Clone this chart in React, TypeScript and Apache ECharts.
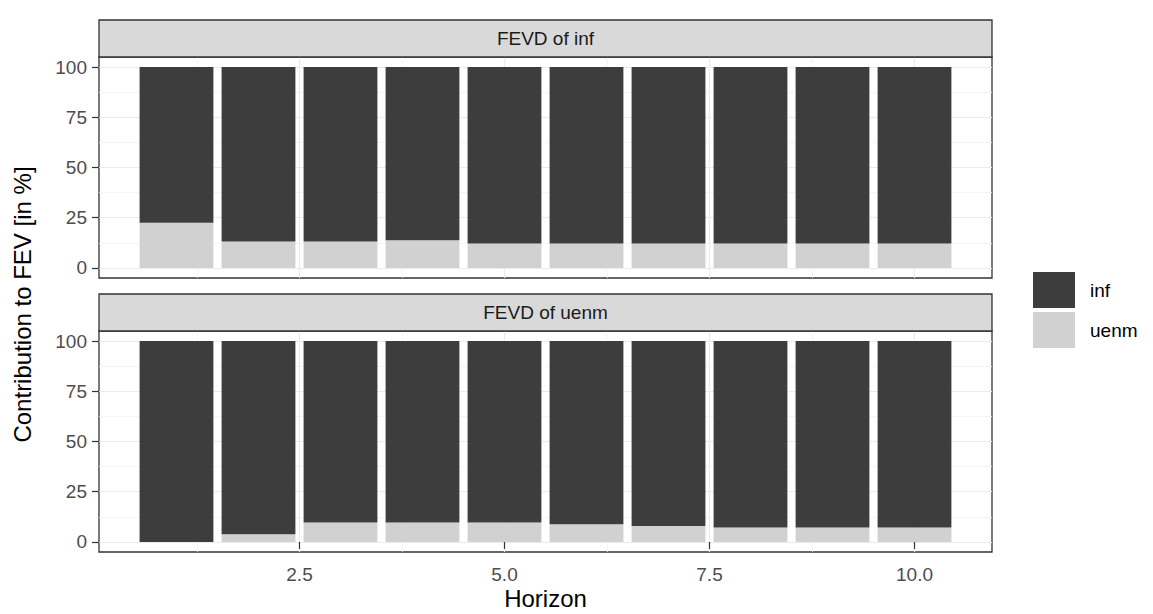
import React, { useEffect, useRef } from "react";
import * as echarts from "echarts";

const horizon = [1, 2, 3, 4, 5, 6, 7, 8, 9, 10];
const panelTitles = ["FEVD of inf", "FEVD of uenm"];
const seriesNames = ["inf", "uenm"];
// Panel 1: FEVD of inf
const p1Inf = [77.5, 86.8, 86.8, 86.2, 87.8, 87.8, 87.8, 87.8, 87.8, 87.8];
const p1Uenm = [22.5, 13.2, 13.2, 13.8, 12.2, 12.2, 12.2, 12.2, 12.2, 12.2];
// Panel 2: FEVD of uenm
const p2Inf = [100, 96.2, 90.3, 90.3, 90.3, 91.2, 92.0, 92.8, 92.8, 92.8];
const p2Uenm = [0, 3.8, 9.7, 9.7, 9.7, 8.8, 8.0, 7.2, 7.2, 7.2];

const yMajor = [0, 25, 50, 75, 100];
const yMinor = [12.5, 37.5, 62.5, 87.5];
const xMajor = [2.5, 5, 7.5, 10];
const xMinor = [1.25, 3.75, 6.25, 8.75];

const DARK = "#3d3d3d";
const LIGHT = "#d1d1d1";
const FONT = "'Liberation Sans', Arial, sans-serif";
const TICK_FS = 19;
const TITLE_FS = 24;

const PL = 99;
const PW = 893;
const PH = 221;
const panelTops = [57, 331];
const stripH = 37;
const XMIN = 0.055;
const XMAX = 10.945;
const pxPerUnit = PW / (XMAX - XMIN);

export default function App() {
  const ref = useRef<HTMLDivElement>(null);
  useEffect(() => {
    if (!ref.current) return;
    const chart = echarts.init(ref.current, undefined, { renderer: "svg" });
    const grids: any[] = panelTops.map((t) => ({
      left: PL,
      top: t,
      width: PW,
      height: PH,
      show: true,
      borderColor: "#333333",
      borderWidth: 1.3,
      backgroundColor: "transparent",
    }));
    // bar grids: one band per horizon step
    panelTops.forEach((t) => {
      grids.push({
        left: PL + (horizon[0] - 0.5 - XMIN) * pxPerUnit,
        top: t,
        width: horizon.length * pxPerUnit,
        height: PH,
        show: false,
      });
    });
    const xAxes: any[] = [];
    const yAxes: any[] = [];
    panelTops.forEach((_, i) => {
      const isBottom = i === panelTops.length - 1;
      xAxes.push({
        type: "value",
        gridIndex: i,
        min: XMIN,
        max: XMAX,
        axisLine: { show: false },
        axisTick: {
          show: isBottom,
          customValues: xMajor,
          length: 7,
          lineStyle: { color: "#333333", width: 1.2 },
        },
        axisLabel: {
          show: isBottom,
          customValues: xMajor,
          formatter: (v: number) => v.toFixed(1),
          color: "#4d4d4d",
          fontFamily: FONT,
          fontSize: TICK_FS,
          margin: 13,
        },
        splitLine: { show: true, lineStyle: { color: "#ebebeb", width: 1.2 } },
      });
      xAxes.push({
        type: "value",
        gridIndex: i,
        position: "top",
        min: XMIN,
        max: XMAX,
        axisLine: { show: false },
        axisTick: { show: false, customValues: xMinor },
        axisLabel: { show: false, customValues: xMinor },
        splitLine: { show: true, lineStyle: { color: "#f2f2f2", width: 0.8 } },
      });
      xAxes.push({
        type: "category",
        gridIndex: 2 + i,
        data: horizon.map(String),
        show: false,
      });
      yAxes.push({
        type: "value",
        gridIndex: i,
        min: -5,
        max: 105,
        axisLine: { show: false },
        axisTick: {
          show: true,
          customValues: yMajor,
          length: 7,
          lineStyle: { color: "#333333", width: 1.2 },
        },
        axisLabel: {
          show: true,
          customValues: yMajor,
          color: "#4d4d4d",
          fontFamily: FONT,
          fontSize: TICK_FS,
          margin: 12,
        },
        splitLine: { show: true, lineStyle: { color: "#ebebeb", width: 1.2 } },
      });
      yAxes.push({
        type: "value",
        gridIndex: i,
        position: "right",
        min: -5,
        max: 105,
        axisLine: { show: false },
        axisTick: { show: false, customValues: yMinor },
        axisLabel: { show: false, customValues: yMinor },
        splitLine: { show: true, lineStyle: { color: "#f2f2f2", width: 0.8 } },
      });
      yAxes.push({
        type: "value",
        gridIndex: 2 + i,
        min: -5,
        max: 105,
        show: false,
        splitLine: { show: false },
      });
    });

    const panelData = [
      [p1Inf, p1Uenm],
      [p2Inf, p2Uenm],
    ];
    const series: any[] = [];
    panelData.forEach(([inf, uenm], i) => {
      series.push({
        name: "uenm",
        type: "bar",
        xAxisIndex: i * 3 + 2,
        yAxisIndex: i * 3 + 2,
        stack: "p" + i,
        barWidth: "90%",
        itemStyle: { color: LIGHT },
        data: uenm,
        z: 2,
      });
      series.push({
        name: "inf",
        type: "bar",
        xAxisIndex: i * 3 + 2,
        yAxisIndex: i * 3 + 2,
        stack: "p" + i,
        barWidth: "90%",
        itemStyle: { color: DARK },
        data: inf,
        z: 2,
      });
    });

    const graphics: any[] = [];
    panelTops.forEach((t, i) => {
      graphics.push({
        type: "rect",
        shape: { x: PL, y: t - stripH, width: PW, height: stripH },
        style: { fill: "#d9d9d9", stroke: "#333333", lineWidth: 1.3 },
        z: 10,
      });
      graphics.push({
        type: "text",
        x: PL + PW / 2,
        y: t - stripH / 2,
        style: {
          text: panelTitles[i],
          fill: "#1a1a1a",
          font: `${TICK_FS}px ${FONT}`,
          textAlign: "center",
          textVerticalAlign: "middle",
        },
        z: 11,
      });
    });
    graphics.push({
      type: "text",
      x: 22,
      y: (panelTops[0] + panelTops[1] + PH) / 2,
      rotation: Math.PI / 2,
      style: {
        text: "Contribution to FEV [in %]",
        fill: "#000000",
        font: `${TITLE_FS}px ${FONT}`,
        textAlign: "center",
        textVerticalAlign: "middle",
      },
    });
    graphics.push({
      type: "text",
      x: PL + PW / 2,
      y: 598,
      style: {
        text: "Horizon",
        fill: "#000000",
        font: `${TITLE_FS}px ${FONT}`,
        textAlign: "center",
        textVerticalAlign: "middle",
      },
    });

    chart.setOption({
      animation: false,
      backgroundColor: "#ffffff",
      grid: grids,
      xAxis: xAxes,
      yAxis: yAxes,
      series,
      legend: {
        data: seriesNames,
        orient: "vertical",
        left: 1033,
        top: 272,
        itemWidth: 42,
        itemHeight: 36,
        itemGap: 4,
        icon: "rect",
        padding: 0,
        textStyle: {
          fontFamily: FONT,
          fontSize: TICK_FS,
          color: "#000000",
          padding: [0, 0, 0, 10],
        },
      },
      graphic: graphics,
    });
    return () => chart.dispose();
  }, []);
  return (
    <div
      ref={ref}
      style={{ position: "fixed", left: 0, top: 0, width: 1153, height: 614 }}
    />
  );
}
